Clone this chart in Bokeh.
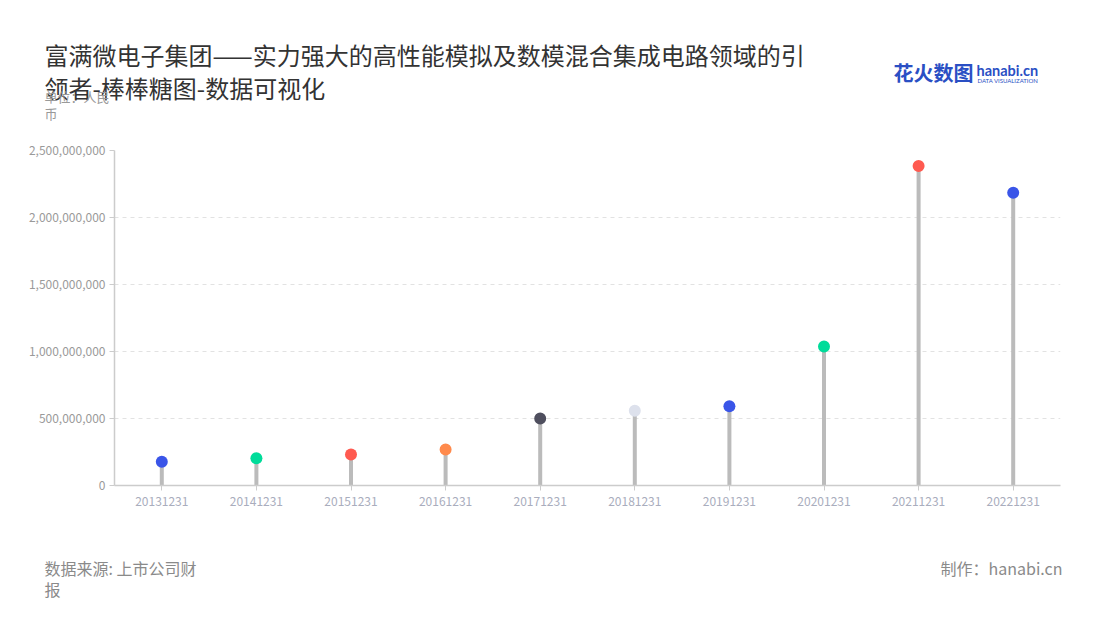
from bokeh.plotting import figure
from bokeh.models import ColumnDataSource, Label, Range1d, FactorRange, NumeralTickFormatter, FixedTicker, Div
from bokeh.layouts import column
from bokeh.embed import file_html
from bokeh.resources import INLINE

years = ["20131231", "20141231", "20151231", "20161231", "20171231",
         "20181231", "20191231", "20201231", "20211231", "20221231"]
values = [177e6, 204e6, 231e6, 269e6, 500e6, 557e6, 592e6, 1037e6, 2385e6, 2184e6]
colors = ["#3a55e8", "#00dc9a", "#ff5a50", "#ff8a4c", "#4f4f5e",
          "#dde1ec", "#3a55e8", "#00dc9a", "#ff5a50", "#3a55e8"]
y_ticks = [0, 500e6, 1000e6, 1500e6, 2000e6, 2500e6]

title_lines = ["富满微电子集团——实力强大的高性能模拟及数模混合集成电路领域的引", "领者-棒棒糖图-数据可视化"]
unit_lines = ["单位：人民", "币"]
source_lines = ["数据来源: 上市公司财", "报"]
credit = "制作：hanabi.cn"

FONT = "Noto Sans CJK SC"
W = 1084
TOP_H = 140          # header strip: page y 0..140
MAIN_TOP_PAD = 10    # frame top at page y 150
FRAME_H = 335        # frame bottom at page y 485
MAIN_BOTTOM_PAD = 45
MAIN_H = MAIN_TOP_PAD + FRAME_H + MAIN_BOTTOM_PAD
FOOT_H = 604 - TOP_H - MAIN_H
FOOT_Y0 = TOP_H + MAIN_H

# (x, y-centre in page px, text, size, colour, align, style, font)
head_items = [
    (44, 54, title_lines[0], "24px", "#333333", "left", "normal", FONT),
    (44, 87, title_lines[1], "24px", "#333333", "left", "normal", FONT),
    (44, 96, unit_lines[0], "13px", "#999999", "left", "normal", FONT),
    (44, 113, unit_lines[1], "13px", "#999999", "left", "normal", FONT),
    (893, 72, "花火数图", "20px", "#2a4fc4", "left", "bold", FONT),
    (976, 70, "hanabi.cn", "14.5px", "#2a4fc4", "left", "bold", "Lato"),
    (977, 80, "DATA VISUALIZATION", "6px", "#2a4fc4", "left", "normal", "Lato"),
]
foot_items = [
    (44, 567, source_lines[0], "16px", "#8a8a8a", "left", "normal", FONT),
    (44, 588, source_lines[1], "16px", "#8a8a8a", "left", "normal", FONT),
    (1062, 567, credit, "16px", "#8a8a8a", "right", "normal", FONT),
]


def strip(height, y0, items):
    f = figure(width=W, height=height, x_range=Range1d(0, W), y_range=Range1d(0, height),
               output_backend="svg", toolbar_location=None, x_axis_type=None, y_axis_type=None,
               min_border=0, min_border_left=0, min_border_right=0, min_border_top=0, min_border_bottom=0)
    f.outline_line_color = None
    f.xgrid.grid_line_color = None
    f.ygrid.grid_line_color = None
    f.frame_align = False
    for x, yc, txt, size, color, align, style, font in items:
        f.add_layout(Label(x=x, y=height - (yc - y0), x_units="screen", y_units="screen",
                           text=txt, text_font=font, text_font_size=size, text_color=color,
                           text_align=align, text_baseline="middle", text_font_style=style))
    return f


def div_strip(height, y0, items):
    spans = []
    for x, yc, txt, size, color, align, style, font in items:
        pos = f"left:{x}px;" if align == "left" else f"right:{W - x}px;"
        spans.append(
            f"<span style=\"position:absolute;{pos}top:{yc - y0}px;transform:translateY(-50%);"
            f"white-space:nowrap;font-family:'{font}';font-size:{size};color:{color};"
            f"font-weight:{style};line-height:1\">{txt}</span>")
    html = f"<div style=\"position:relative;width:{W}px;height:{height}px\">{''.join(spans)}</div>"
    return Div(text=html, width=W, height=height, margin=0)


# ---------- main chart ----------
src = ColumnDataSource(dict(x=years, y=values, c=colors, z=[0] * len(values)))
p = figure(width=W, height=MAIN_H, x_range=FactorRange(*years), y_range=Range1d(0, 2.5e9),
           output_backend="svg", toolbar_location=None,
           min_border_left=114, min_border_right=24, min_border_top=MAIN_TOP_PAD,
           min_border_bottom=MAIN_BOTTOM_PAD)
p.outline_line_color = None

p.segment(x0="x", y0="z", x1="x", y1="y", source=src, line_color="#bbbbbb", line_width=4)
p.scatter(x="x", y="y", source=src, size=12, fill_color="c", line_color=None)

p.yaxis.ticker = FixedTicker(ticks=y_ticks)
p.yaxis.formatter = NumeralTickFormatter(format="0,0")
for ax in (p.xaxis[0], p.yaxis[0]):
    ax.axis_line_color = "#cccccc"
    ax.axis_line_width = 1.5
    ax.major_tick_line_color = "#cccccc"
    ax.major_tick_in = 0
    ax.major_tick_out = 5
    ax.minor_tick_line_color = None
    ax.major_label_text_font = FONT
    ax.major_label_text_font_size = "12px"
p.yaxis.major_label_text_color = "#9a9a9a"
p.xaxis.major_label_text_color = "#a9adbd"
p.xaxis.major_label_standoff = 6
p.yaxis.major_label_standoff = 4

p.xgrid.grid_line_color = None
p.ygrid.grid_line_color = "#e2e2e2"
p.ygrid.grid_line_dash = "4 4"
p.ygrid.ticker = FixedTicker(ticks=y_ticks)

if "frame_align" in p.properties():
    p.frame_align = False
    head = strip(TOP_H, 0, head_items)
    foot = strip(FOOT_H, FOOT_Y0, foot_items)
else:
    head = div_strip(TOP_H, 0, head_items)
    foot = div_strip(FOOT_H, FOOT_Y0, foot_items)

open("out.html", "w").write(file_html(column(head, p, foot), INLINE))
